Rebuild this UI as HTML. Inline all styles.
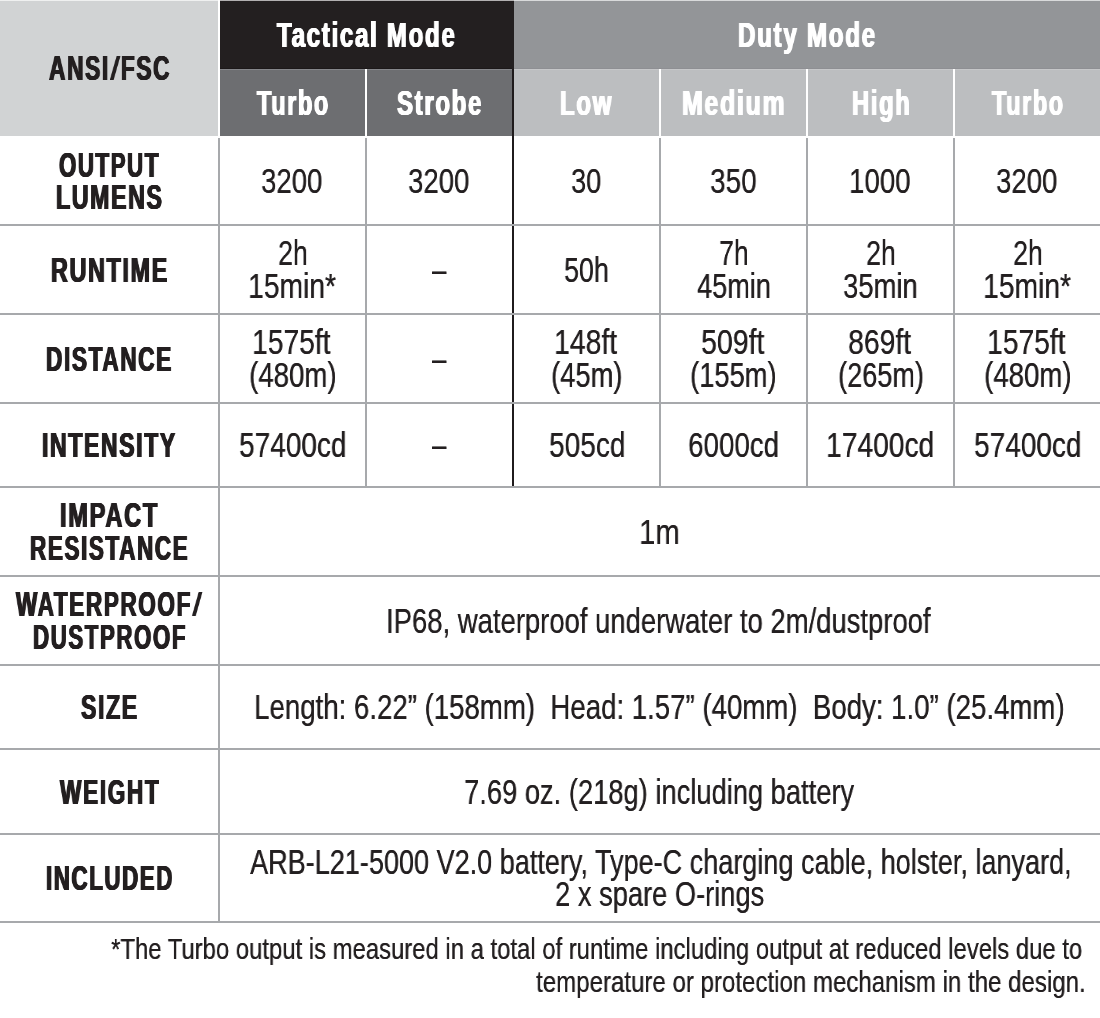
<!DOCTYPE html>
<html><head><meta charset="utf-8"><style>
html,body{margin:0;padding:0;background:#fff;}
body{width:1100px;height:1018px;position:relative;overflow:hidden;font-family:"Liberation Sans",sans-serif;}
.t{position:absolute;white-space:pre;transform-origin:0 0;will-change:transform;}
</style></head><body>
<div style="position:absolute;left:0px;top:0px;width:218px;height:136px;background:#d1d3d4;"></div>
<div style="position:absolute;left:220px;top:0px;width:294px;height:69px;background:#231f20;"></div>
<div style="position:absolute;left:514px;top:0px;width:586px;height:69px;background:#939598;"></div>
<div style="position:absolute;left:220px;top:69px;width:145px;height:67px;background:#6d6e71;"></div>
<div style="position:absolute;left:367px;top:69px;width:145px;height:67px;background:#6d6e71;"></div>
<div style="position:absolute;left:514px;top:69px;width:145px;height:67px;background:#bcbec0;"></div>
<div style="position:absolute;left:661px;top:69px;width:145px;height:67px;background:#bcbec0;"></div>
<div style="position:absolute;left:808px;top:69px;width:145px;height:67px;background:#bcbec0;"></div>
<div style="position:absolute;left:955px;top:69px;width:145px;height:67px;background:#bcbec0;"></div>
<div style="position:absolute;left:220px;top:68px;width:292px;height:1px;background:#1c1819;"></div>
<div style="position:absolute;left:220px;top:69px;width:145px;height:1px;background:#85868a;"></div>
<div style="position:absolute;left:367px;top:69px;width:145px;height:1px;background:#85868a;"></div>
<div style="position:absolute;left:514px;top:68px;width:586px;height:1px;background:#8e8f93;"></div>
<div style="position:absolute;left:514px;top:69px;width:145px;height:1px;background:#c6c7c9;"></div>
<div style="position:absolute;left:661px;top:69px;width:145px;height:1px;background:#c6c7c9;"></div>
<div style="position:absolute;left:808px;top:69px;width:145px;height:1px;background:#c6c7c9;"></div>
<div style="position:absolute;left:955px;top:69px;width:145px;height:1px;background:#c6c7c9;"></div>
<div style="position:absolute;left:512px;top:69px;width:2px;height:419px;background:#1f1b1c;"></div>
<div style="position:absolute;left:218px;top:138px;width:2px;height:785px;background:#a7a9ac;"></div>
<div style="position:absolute;left:365px;top:138px;width:2px;height:350px;background:#a7a9ac;"></div>
<div style="position:absolute;left:659px;top:138px;width:2px;height:350px;background:#a7a9ac;"></div>
<div style="position:absolute;left:806px;top:138px;width:2px;height:350px;background:#a7a9ac;"></div>
<div style="position:absolute;left:953px;top:138px;width:2px;height:350px;background:#a7a9ac;"></div>
<div style="position:absolute;left:0px;top:224px;width:1100px;height:2px;background:#a7a9ac;"></div>
<div style="position:absolute;left:0px;top:313px;width:1100px;height:2px;background:#a7a9ac;"></div>
<div style="position:absolute;left:0px;top:402px;width:1100px;height:2px;background:#a7a9ac;"></div>
<div style="position:absolute;left:0px;top:486px;width:1100px;height:2px;background:#a7a9ac;"></div>
<div style="position:absolute;left:0px;top:575px;width:1100px;height:2px;background:#a7a9ac;"></div>
<div style="position:absolute;left:0px;top:664px;width:1100px;height:2px;background:#a7a9ac;"></div>
<div style="position:absolute;left:0px;top:748px;width:1100px;height:2px;background:#a7a9ac;"></div>
<div style="position:absolute;left:0px;top:833px;width:1100px;height:2px;background:#a7a9ac;"></div>
<div style="position:absolute;left:0px;top:921px;width:1100px;height:2px;background:#a7a9ac;"></div>
<div style="position:absolute;left:0px;top:0px;width:1100px;height:1px;background:rgba(255,255,255,0.65);"></div>
<div class="t" style="left:48.95px;top:50.07px;font-size:35.0px;line-height:35.0px;font-weight:bold;color:#231f20;transform:scaleX(0.6492);letter-spacing:2.5px;text-shadow:0.9px 0 0 currentColor,-0.9px 0 0 currentColor,0.45px 0 0 currentColor,-0.45px 0 0 currentColor;">ANSI<span style="display:inline-block;width:16.4px;height:24.1px;background:currentColor;clip-path:polygon(0 100%,36% 100%,100% 0,64% 0);margin-right:0.6px"></span>FSC</div>
<div class="t" style="left:277.39px;top:17.07px;font-size:35.0px;line-height:35.0px;font-weight:bold;color:#ffffff;transform:scaleX(0.6869);letter-spacing:2.5px;text-shadow:0.9px 0 0 currentColor,-0.9px 0 0 currentColor,0.45px 0 0 currentColor,-0.45px 0 0 currentColor;">Tactical Mode</div>
<div class="t" style="left:738.40px;top:17.07px;font-size:35.0px;line-height:35.0px;font-weight:bold;color:#ffffff;transform:scaleX(0.6894);letter-spacing:2.5px;text-shadow:0.9px 0 0 currentColor,-0.9px 0 0 currentColor,0.45px 0 0 currentColor,-0.45px 0 0 currentColor;">Duty Mode</div>
<div class="t" style="left:257.07px;top:84.57px;font-size:35.0px;line-height:35.0px;font-weight:bold;color:#ffffff;transform:scaleX(0.6685);letter-spacing:2.5px;text-shadow:0.9px 0 0 currentColor,-0.9px 0 0 currentColor,0.45px 0 0 currentColor,-0.45px 0 0 currentColor;">Turbo</div>
<div class="t" style="left:397.10px;top:84.57px;font-size:35.0px;line-height:35.0px;font-weight:bold;color:#ffffff;transform:scaleX(0.6839);letter-spacing:2.5px;text-shadow:0.9px 0 0 currentColor,-0.9px 0 0 currentColor,0.45px 0 0 currentColor,-0.45px 0 0 currentColor;">Strobe</div>
<div class="t" style="left:560.10px;top:84.57px;font-size:35.0px;line-height:35.0px;font-weight:bold;color:#ffffff;transform:scaleX(0.6857);letter-spacing:2.5px;text-shadow:0.9px 0 0 currentColor,-0.9px 0 0 currentColor,0.45px 0 0 currentColor,-0.45px 0 0 currentColor;">Low</div>
<div class="t" style="left:682.10px;top:84.57px;font-size:35.0px;line-height:35.0px;font-weight:bold;color:#ffffff;transform:scaleX(0.7090);letter-spacing:2.5px;text-shadow:0.9px 0 0 currentColor,-0.9px 0 0 currentColor,0.45px 0 0 currentColor,-0.45px 0 0 currentColor;">Medium</div>
<div class="t" style="left:851.70px;top:84.57px;font-size:35.0px;line-height:35.0px;font-weight:bold;color:#ffffff;transform:scaleX(0.6776);letter-spacing:2.5px;text-shadow:0.9px 0 0 currentColor,-0.9px 0 0 currentColor,0.45px 0 0 currentColor,-0.45px 0 0 currentColor;">High</div>
<div class="t" style="left:992.17px;top:84.57px;font-size:35.0px;line-height:35.0px;font-weight:bold;color:#ffffff;transform:scaleX(0.6667);letter-spacing:2.5px;text-shadow:0.9px 0 0 currentColor,-0.9px 0 0 currentColor,0.45px 0 0 currentColor,-0.45px 0 0 currentColor;">Turbo</div>
<div class="t" style="left:58.80px;top:146.57px;font-size:35.0px;line-height:35.0px;font-weight:bold;color:#231f20;transform:scaleX(0.6354);letter-spacing:2.5px;text-shadow:0.9px 0 0 currentColor,-0.9px 0 0 currentColor,0.45px 0 0 currentColor,-0.45px 0 0 currentColor;">OUTPUT</div>
<div class="t" style="left:55.80px;top:179.37px;font-size:35.0px;line-height:35.0px;font-weight:bold;color:#231f20;transform:scaleX(0.6609);letter-spacing:2.5px;text-shadow:0.9px 0 0 currentColor,-0.9px 0 0 currentColor,0.45px 0 0 currentColor,-0.45px 0 0 currentColor;">LUMENS</div>
<div class="t" style="left:50.70px;top:251.57px;font-size:35.0px;line-height:35.0px;font-weight:bold;color:#231f20;transform:scaleX(0.6663);letter-spacing:2.5px;text-shadow:0.9px 0 0 currentColor,-0.9px 0 0 currentColor,0.45px 0 0 currentColor,-0.45px 0 0 currentColor;">RUNTIME</div>
<div class="t" style="left:46.30px;top:340.57px;font-size:35.0px;line-height:35.0px;font-weight:bold;color:#231f20;transform:scaleX(0.6464);letter-spacing:2.5px;text-shadow:0.9px 0 0 currentColor,-0.9px 0 0 currentColor,0.45px 0 0 currentColor,-0.45px 0 0 currentColor;">DISTANCE</div>
<div class="t" style="left:42.00px;top:427.07px;font-size:35.0px;line-height:35.0px;font-weight:bold;color:#231f20;transform:scaleX(0.6569);letter-spacing:2.5px;text-shadow:0.9px 0 0 currentColor,-0.9px 0 0 currentColor,0.45px 0 0 currentColor,-0.45px 0 0 currentColor;">INTENSITY</div>
<div class="t" style="left:60.00px;top:497.07px;font-size:35.0px;line-height:35.0px;font-weight:bold;color:#231f20;transform:scaleX(0.6759);letter-spacing:2.5px;text-shadow:0.9px 0 0 currentColor,-0.9px 0 0 currentColor,0.45px 0 0 currentColor,-0.45px 0 0 currentColor;">IMPACT</div>
<div class="t" style="left:30.00px;top:529.87px;font-size:35.0px;line-height:35.0px;font-weight:bold;color:#231f20;transform:scaleX(0.6423);letter-spacing:2.5px;text-shadow:0.9px 0 0 currentColor,-0.9px 0 0 currentColor,0.45px 0 0 currentColor,-0.45px 0 0 currentColor;">RESISTANCE</div>
<div class="t" style="left:16.29px;top:586.07px;font-size:35.0px;line-height:35.0px;font-weight:bold;color:#231f20;transform:scaleX(0.6438);letter-spacing:2.5px;text-shadow:0.9px 0 0 currentColor,-0.9px 0 0 currentColor,0.45px 0 0 currentColor,-0.45px 0 0 currentColor;">WATERPROOF<span style="display:inline-block;width:16.4px;height:24.1px;background:currentColor;clip-path:polygon(0 100%,36% 100%,100% 0,64% 0);margin-right:0.6px"></span></div>
<div class="t" style="left:32.70px;top:618.87px;font-size:35.0px;line-height:35.0px;font-weight:bold;color:#231f20;transform:scaleX(0.6358);letter-spacing:2.5px;text-shadow:0.9px 0 0 currentColor,-0.9px 0 0 currentColor,0.45px 0 0 currentColor,-0.45px 0 0 currentColor;">DUSTPROOF</div>
<div class="t" style="left:80.70px;top:689.07px;font-size:35.0px;line-height:35.0px;font-weight:bold;color:#231f20;transform:scaleX(0.6581);letter-spacing:2.5px;text-shadow:0.9px 0 0 currentColor,-0.9px 0 0 currentColor,0.45px 0 0 currentColor,-0.45px 0 0 currentColor;">SIZE</div>
<div class="t" style="left:59.79px;top:773.57px;font-size:35.0px;line-height:35.0px;font-weight:bold;color:#231f20;transform:scaleX(0.6474);letter-spacing:2.5px;text-shadow:0.9px 0 0 currentColor,-0.9px 0 0 currentColor,0.45px 0 0 currentColor,-0.45px 0 0 currentColor;">WEIGHT</div>
<div class="t" style="left:45.60px;top:860.07px;font-size:35.0px;line-height:35.0px;font-weight:bold;color:#231f20;transform:scaleX(0.6372);letter-spacing:2.5px;text-shadow:0.9px 0 0 currentColor,-0.9px 0 0 currentColor,0.45px 0 0 currentColor,-0.45px 0 0 currentColor;">INCLUDED</div>
<div class="t" style="left:261.46px;top:163.07px;font-size:35.0px;line-height:35.0px;font-weight:normal;color:#231f20;transform:scaleX(0.7857);text-shadow:0.3px 0 0 currentColor;">3200</div>
<div class="t" style="left:408.46px;top:163.07px;font-size:35.0px;line-height:35.0px;font-weight:normal;color:#231f20;transform:scaleX(0.7857);text-shadow:0.3px 0 0 currentColor;">3200</div>
<div class="t" style="left:571.03px;top:163.07px;font-size:35.0px;line-height:35.0px;font-weight:normal;color:#231f20;transform:scaleX(0.7737);text-shadow:0.3px 0 0 currentColor;">30</div>
<div class="t" style="left:710.00px;top:163.07px;font-size:35.0px;line-height:35.0px;font-weight:normal;color:#231f20;transform:scaleX(0.7965);text-shadow:0.3px 0 0 currentColor;">350</div>
<div class="t" style="left:848.97px;top:163.07px;font-size:35.0px;line-height:35.0px;font-weight:normal;color:#231f20;transform:scaleX(0.7882);text-shadow:0.3px 0 0 currentColor;">1000</div>
<div class="t" style="left:996.46px;top:163.07px;font-size:35.0px;line-height:35.0px;font-weight:normal;color:#231f20;transform:scaleX(0.7857);text-shadow:0.3px 0 0 currentColor;">3200</div>
<div class="t" style="left:277.64px;top:235.07px;font-size:35.0px;line-height:35.0px;font-weight:normal;color:#231f20;transform:scaleX(0.7622);text-shadow:0.3px 0 0 currentColor;">2h</div>
<div class="t" style="left:247.74px;top:267.87px;font-size:35.0px;line-height:35.0px;font-weight:normal;color:#231f20;transform:scaleX(0.8065);text-shadow:0.3px 0 0 currentColor;">15min*</div>
<div class="t" style="left:432.23px;top:251.57px;font-size:35.0px;line-height:35.0px;font-weight:normal;color:#231f20;transform:scaleX(0.7273);text-shadow:0.3px 0 0 currentColor;">–</div>
<div class="t" style="left:563.94px;top:251.57px;font-size:35.0px;line-height:35.0px;font-weight:normal;color:#231f20;transform:scaleX(0.7649);text-shadow:0.3px 0 0 currentColor;">50h</div>
<div class="t" style="left:718.69px;top:235.07px;font-size:35.0px;line-height:35.0px;font-weight:normal;color:#231f20;transform:scaleX(0.7595);text-shadow:0.3px 0 0 currentColor;">7h</div>
<div class="t" style="left:696.75px;top:267.87px;font-size:35.0px;line-height:35.0px;font-weight:normal;color:#231f20;transform:scaleX(0.7737);text-shadow:0.3px 0 0 currentColor;">45min</div>
<div class="t" style="left:865.64px;top:235.07px;font-size:35.0px;line-height:35.0px;font-weight:normal;color:#231f20;transform:scaleX(0.7622);text-shadow:0.3px 0 0 currentColor;">2h</div>
<div class="t" style="left:842.97px;top:267.87px;font-size:35.0px;line-height:35.0px;font-weight:normal;color:#231f20;transform:scaleX(0.7819);text-shadow:0.3px 0 0 currentColor;">35min</div>
<div class="t" style="left:1012.64px;top:235.07px;font-size:35.0px;line-height:35.0px;font-weight:normal;color:#231f20;transform:scaleX(0.7622);text-shadow:0.3px 0 0 currentColor;">2h</div>
<div class="t" style="left:982.74px;top:267.87px;font-size:35.0px;line-height:35.0px;font-weight:normal;color:#231f20;transform:scaleX(0.8065);text-shadow:0.3px 0 0 currentColor;">15min*</div>
<div class="t" style="left:252.24px;top:324.07px;font-size:35.0px;line-height:35.0px;font-weight:normal;color:#231f20;transform:scaleX(0.8052);text-shadow:0.3px 0 0 currentColor;">1575ft</div>
<div class="t" style="left:248.71px;top:356.87px;font-size:35.0px;line-height:35.0px;font-weight:normal;color:#231f20;transform:scaleX(0.7890);text-shadow:0.3px 0 0 currentColor;">(480m)</div>
<div class="t" style="left:432.23px;top:340.57px;font-size:35.0px;line-height:35.0px;font-weight:normal;color:#231f20;transform:scaleX(0.7273);text-shadow:0.3px 0 0 currentColor;">–</div>
<div class="t" style="left:553.73px;top:324.07px;font-size:35.0px;line-height:35.0px;font-weight:normal;color:#231f20;transform:scaleX(0.8091);text-shadow:0.3px 0 0 currentColor;">148ft</div>
<div class="t" style="left:550.97px;top:356.87px;font-size:35.0px;line-height:35.0px;font-weight:normal;color:#231f20;transform:scaleX(0.7809);text-shadow:0.3px 0 0 currentColor;">(45m)</div>
<div class="t" style="left:700.99px;top:324.07px;font-size:35.0px;line-height:35.0px;font-weight:normal;color:#231f20;transform:scaleX(0.8128);text-shadow:0.3px 0 0 currentColor;">509ft</div>
<div class="t" style="left:690.22px;top:356.87px;font-size:35.0px;line-height:35.0px;font-weight:normal;color:#231f20;transform:scaleX(0.7798);text-shadow:0.3px 0 0 currentColor;">(155m)</div>
<div class="t" style="left:848.14px;top:324.07px;font-size:35.0px;line-height:35.0px;font-weight:normal;color:#231f20;transform:scaleX(0.8090);text-shadow:0.3px 0 0 currentColor;">869ft</div>
<div class="t" style="left:837.53px;top:356.87px;font-size:35.0px;line-height:35.0px;font-weight:normal;color:#231f20;transform:scaleX(0.7743);text-shadow:0.3px 0 0 currentColor;">(265m)</div>
<div class="t" style="left:987.24px;top:324.07px;font-size:35.0px;line-height:35.0px;font-weight:normal;color:#231f20;transform:scaleX(0.8052);text-shadow:0.3px 0 0 currentColor;">1575ft</div>
<div class="t" style="left:983.71px;top:356.87px;font-size:35.0px;line-height:35.0px;font-weight:normal;color:#231f20;transform:scaleX(0.7890);text-shadow:0.3px 0 0 currentColor;">(480m)</div>
<div class="t" style="left:238.95px;top:427.07px;font-size:35.0px;line-height:35.0px;font-weight:normal;color:#231f20;transform:scaleX(0.7992);text-shadow:0.3px 0 0 currentColor;">57400cd</div>
<div class="t" style="left:432.23px;top:427.07px;font-size:35.0px;line-height:35.0px;font-weight:normal;color:#231f20;transform:scaleX(0.7273);text-shadow:0.3px 0 0 currentColor;">–</div>
<div class="t" style="left:548.50px;top:427.07px;font-size:35.0px;line-height:35.0px;font-weight:normal;color:#231f20;transform:scaleX(0.8000);text-shadow:0.3px 0 0 currentColor;">505cd</div>
<div class="t" style="left:687.96px;top:427.07px;font-size:35.0px;line-height:35.0px;font-weight:normal;color:#231f20;transform:scaleX(0.7920);text-shadow:0.3px 0 0 currentColor;">6000cd</div>
<div class="t" style="left:826.19px;top:427.07px;font-size:35.0px;line-height:35.0px;font-weight:normal;color:#231f20;transform:scaleX(0.8046);text-shadow:0.3px 0 0 currentColor;">17400cd</div>
<div class="t" style="left:973.95px;top:427.07px;font-size:35.0px;line-height:35.0px;font-weight:normal;color:#231f20;transform:scaleX(0.7992);text-shadow:0.3px 0 0 currentColor;">57400cd</div>
<div class="t" style="left:639.13px;top:513.57px;font-size:35.0px;line-height:35.0px;font-weight:normal;color:#231f20;transform:scaleX(0.8348);text-shadow:0.3px 0 0 currentColor;">1m</div>
<div class="t" style="left:386.43px;top:602.57px;font-size:35.0px;line-height:35.0px;font-weight:normal;color:#231f20;transform:scaleX(0.7839);text-shadow:0.3px 0 0 currentColor;">IP68, waterproof underwater to 2m/dustproof</div>
<div class="t" style="left:254.42px;top:689.07px;font-size:35.0px;line-height:35.0px;font-weight:normal;color:#231f20;transform:scaleX(0.7891);text-shadow:0.3px 0 0 currentColor;">Length: 6.22” (158mm)  Head: 1.57” (40mm)  Body: 1.0” (25.4mm)</div>
<div class="t" style="left:464.22px;top:773.57px;font-size:35.0px;line-height:35.0px;font-weight:normal;color:#231f20;transform:scaleX(0.7800);text-shadow:0.3px 0 0 currentColor;">7.69 oz. (218g) including battery</div>
<div class="t" style="left:250.00px;top:843.57px;font-size:35.0px;line-height:35.0px;font-weight:normal;color:#231f20;transform:scaleX(0.7729);text-shadow:0.3px 0 0 currentColor;">ARB-L21-5000 V2.0 battery, Type-C charging cable, holster, lanyard,</div>
<div class="t" style="left:555.22px;top:876.37px;font-size:35.0px;line-height:35.0px;font-weight:normal;color:#231f20;transform:scaleX(0.7790);text-shadow:0.3px 0 0 currentColor;">2 x spare O-rings</div>
<div class="t" style="left:111.40px;top:933.90px;font-size:30.0px;line-height:30.0px;font-weight:normal;color:#231f20;transform:scaleX(0.7955);text-shadow:0.3px 0 0 currentColor;">*The Turbo output is measured in a total of runtime including output at reduced levels due to</div>
<div class="t" style="left:535.50px;top:966.90px;font-size:30.0px;line-height:30.0px;font-weight:normal;color:#231f20;transform:scaleX(0.8019);text-shadow:0.3px 0 0 currentColor;">temperature or protection mechanism in the design.</div>
</body></html>
